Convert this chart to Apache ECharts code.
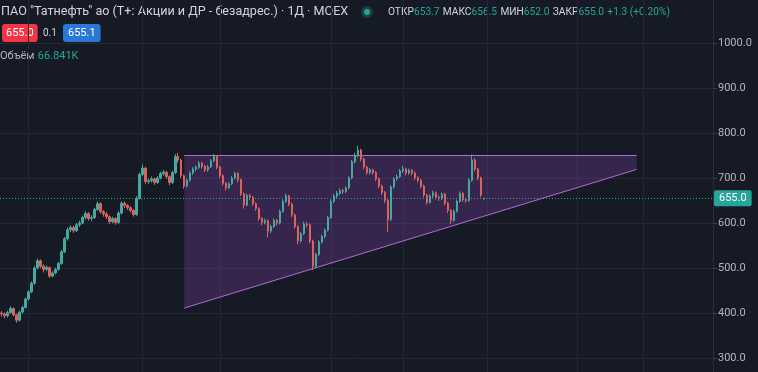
<!DOCTYPE html>
<html>
<head>
<meta charset="utf-8">
<script src="https://cdn.jsdelivr.net/npm/echarts@6/dist/echarts.min.js"></script>
<style>
  html, body { margin: 0; padding: 0; background: #161a25; }
  #main { width: 758px; height: 372px; }
</style>
</head>
<body>
<div id="main"></div>
<script>
// For initialisation
var chart = echarts.init(document.getElementById('main'));

// header texts
const titleText = 'ПАО "Татнефть" ао (Т+: Акции и ДР - безадрес.) · 1Д · MOEX';
const ohlcLabels = ['ОТКР', 'МАКС', 'МИН', 'ЗАКР'];
const ohlcValues = ['653.7', '656.5', '652.0', '655.0'];
const changeText = '+1.3 (+0.20%)';
const sellPrice = '655.0';
const spread = '0.1';
const buyPrice = '655.1';
const volumeLabel = 'Объём';
const volumeValue = '66.841K';

// last price
const lastPrice = 655.0;

// daily candles: [open, close, low, high]
const candles = [
  [400,398,392,404],[398,394,388,401],[394,401,390,405],[401,410,398,415],[410,396,393,412],
  [396,384,378,399],[384,402,381,405],[402,412,399,416],[412,431,410,434],[431,447,428,450],
  [447,466,444,470],[466,500,463,505],[500,516,497,521],[516,504,500,519],[504,497,490,508],
  [497,501,493,506],[501,482,478,503],[482,489,479,493],[489,497,486,501],[497,510,494,514],
  [510,536,507,540],[536,565,533,569],[565,585,561,590],[585,590,580,595],[590,583,578,594],
  [583,596,580,600],[596,600,591,605],[600,612,597,616],[612,621,608,626],[621,610,605,624],
  [610,612,604,617],[612,630,609,634],[630,643,627,648],[643,625,621,646],[625,620,614,629],
  [620,614,609,624],[614,603,598,617],[603,610,599,614],[610,601,596,613],[601,622,598,626],
  [622,644,619,648],[644,639,633,648],[639,634,629,642],[634,628,623,637],[628,619,614,631],
  [619,655,616,660],[655,708,652,712],[708,722,704,730],[722,692,686,725],[692,694,687,699],
  [694,698,690,703],[698,690,685,701],[690,700,687,704],[700,710,697,714],[710,713,705,718],
  [713,703,698,716],[703,690,684,706],[690,712,687,716],[712,748,709,753],[748,740,734,756],
  [740,705,700,743],[705,682,676,708],[682,695,679,699],[695,711,692,715],[711,720,707,724],
  [720,724,715,728],[724,733,720,738],[733,726,721,736],[726,718,713,729],[718,725,714,729],
  [725,738,722,742],[738,748,735,753],[748,724,719,751],[724,705,700,727],[705,688,683,708],
  [688,678,672,691],[678,687,675,691],[687,700,684,704],[700,710,697,714],[710,696,690,713],
  [696,665,660,699],[665,640,632,668],[640,661,637,665],[661,657,651,665],[657,643,638,660],
  [643,632,627,646],[632,610,605,635],[610,601,595,613],[601,605,597,610],[605,582,568,608],
  [582,592,578,596],[592,606,589,610],[606,600,594,609],[600,626,597,630],[626,648,623,652],
  [648,660,645,665],[660,642,637,663],[642,618,613,645],[618,592,587,621],[592,560,553,595],
  [560,576,556,580],[576,598,573,603],[598,596,590,602],[596,560,555,599],[560,504,496,563],
  [504,530,500,534],[530,558,526,562],[558,570,554,574],[570,584,566,588],[584,612,581,616],
  [612,648,609,652],[648,660,644,664],[660,666,655,671],[666,672,662,677],[672,670,664,676],
  [670,678,666,682],[678,700,675,704],[700,736,697,740],[736,750,732,756],[750,762,746,772],
  [762,742,737,765],[742,724,719,745],[724,712,707,727],[712,718,708,722],[718,712,707,721],
  [712,698,693,715],[698,682,677,701],[682,668,662,685],[668,650,644,671],[650,608,580,653],
  [608,680,604,684],[680,698,676,702],[698,703,694,708],[703,716,700,720],[716,720,711,727],
  [720,711,706,723],[711,717,707,721],[717,711,706,720],[711,701,696,714],[701,695,690,704],
  [695,682,677,698],[682,662,657,685],[662,646,641,665],[646,660,643,664],[660,667,656,672],
  [667,657,652,670],[657,655,649,661],[655,664,651,668],[664,644,639,667],[644,628,622,647],
  [628,606,598,631],[606,626,603,630],[626,648,623,652],[648,666,645,670],[666,652,647,669],
  [652,650,645,656],[650,695,647,700],[695,740,692,752],[740,720,715,744],[720,700,695,723],
  [700,662,657,703],[653.7,655.0,652.0,656.5]
];

// empty days on the right side of the chart
const totalDays = 238;
var days = [];
for (var i = 0; i < totalDays; i++) { days.push(i); }

// time grid lines (month marks)
const monthMarks = [9, 47, 73, 110, 134, 162, 192, 214];

// triangle drawing: day index / price
const triX = [61, 212, 212, 61];
const triY = [750, 750, 719, 411];

const upColor = '#26a69a';
const downColor = '#ef5350';
const candleUp = '#45a99f';
const candleDown = '#dc625c';
const purple = '#b46ad6';

var option = {
  backgroundColor: '#161a25',
  animation: false,
  grid: { left: 0, right: 45, top: -2, bottom: -31, outerBoundsMode: 'none' },
  xAxis: {
    type: 'category',
    data: days,
    boundaryGap: true,
    axisLine: { show: false },
    axisTick: { show: false },
    axisLabel: { show: false },
    splitLine: { show: false }
  },
  yAxis: {
    type: 'value',
    position: 'right',
    min: 200,
    max: 1100,
    interval: 100,
    axisLine: { show: true, lineStyle: { color: '#2a2e39' } },
    axisTick: { show: true, length: 4, lineStyle: { color: '#3a3e49' } },
    axisLabel: {
      color: '#b2b5be',
      fontSize: 11,
      fontFamily: 'Roboto',
      margin: 5,
      showMinLabel: false,
      showMaxLabel: false,
      formatter: function (v) { return v.toFixed(1); }
    },
    splitLine: { lineStyle: { color: '#232733' } }
  },
  series: [
    {
      // vertical time grid
      type: 'custom',
      silent: true,
      z: 1,
      data: monthMarks.map(function (d) { return [d]; }),
      renderItem: function (params, api) {
        var x = Math.round(api.coord([api.value(0), 500])[0]) + 0.5;
        var cs = params.coordSys;
        return {
          type: 'line',
          shape: { x1: x, y1: cs.y, x2: x, y2: cs.y + cs.height },
          style: { stroke: '#232733', lineWidth: 1 }
        };
      }
    },
    {
      // triangle pattern
      type: 'custom',
      silent: true,
      z: 2,
      data: [[triX[0], triY[0]]],
      renderItem: function (params, api) {
        var pts = triX.map(function (x, k) { return api.coord([x, triY[k]]); });
        return {
          type: 'group',
          children: [
            {
              type: 'polygon',
              shape: { points: pts },
              style: { fill: 'rgba(150, 70, 200, 0.25)' }
            },
            {
              type: 'polyline',
              shape: { points: [pts[0], pts[1]] },
              style: { stroke: purple, lineWidth: 1, fill: null }
            },
            {
              type: 'polyline',
              shape: { points: [pts[3], pts[2]] },
              style: { stroke: purple, lineWidth: 1, fill: null }
            }
          ]
        };
      }
    },
    {
      type: 'candlestick',
      z: 3,
      data: candles,
      barWidth: 2,
      itemStyle: {
        color: candleUp,
        color0: candleDown,
        borderColor: candleUp,
        borderColor0: candleDown,
        borderWidth: 1
      },
      markLine: {
        silent: true,
        symbol: 'none',
        data: [{ yAxis: lastPrice }],
        lineStyle: { color: upColor, type: [1, 2], width: 1 },
        label: {
          position: 'end',
          distance: 1,
          formatter: lastPrice.toFixed(1),
          color: '#ffffff',
          fontSize: 11,
          fontFamily: 'Roboto',
          backgroundColor: upColor,
          padding: [3, 5, 2, 5],
          borderRadius: 2
        }
      }
    }
  ],
  graphic: [
    {
      type: 'text', left: 1, top: 5,
      style: { text: titleText, fill: '#d1d4dc', font: '12.6px Roboto' }
    },
    { type: 'circle', shape: { cx: 367, cy: 12, r: 6 }, style: { fill: 'rgba(38,166,154,0.25)' } },
    { type: 'circle', shape: { cx: 367, cy: 12, r: 3 }, style: { fill: upColor } },
    {
      type: 'text', left: 388, top: 6,
      style: {
        text: ohlcLabels.map(function (l, k) { return '{l|' + l + '}{v|' + ohlcValues[k] + '}'; }).join(' ') + ' {v|' + changeText + '}',
        rich: {
          l: { fill: '#d1d4dc', font: '10.2px Roboto' },
          v: { fill: upColor, font: '10.2px Roboto' }
        }
      }
    },
    {
      type: 'text', left: 2, top: 24,
      style: {
        text: sellPrice, fill: '#ffffff', font: '11px Roboto',
        backgroundColor: '#f23645', padding: [4, 4, 3, 4], borderRadius: 3
      }
    },
    { type: 'text', left: 43, top: 28, style: { text: spread, fill: '#d1d4dc', font: '10px Roboto' } },
    {
      type: 'text', left: 63, top: 24,
      style: {
        text: buyPrice, fill: '#ffffff', font: '11px Roboto',
        backgroundColor: '#2a78d6', padding: [4, 5, 3, 5], borderRadius: 3
      }
    },
    {
      type: 'text', left: 0, top: 50,
      style: {
        text: '{l|' + volumeLabel + '} {v|' + volumeValue + '}',
        rich: {
          l: { fill: '#b2b5be', font: '11px Roboto' },
          v: { fill: upColor, font: '11px Roboto' }
        }
      }
    }
  ]
};

chart.setOption(option);
</script>
</body>
</html>
